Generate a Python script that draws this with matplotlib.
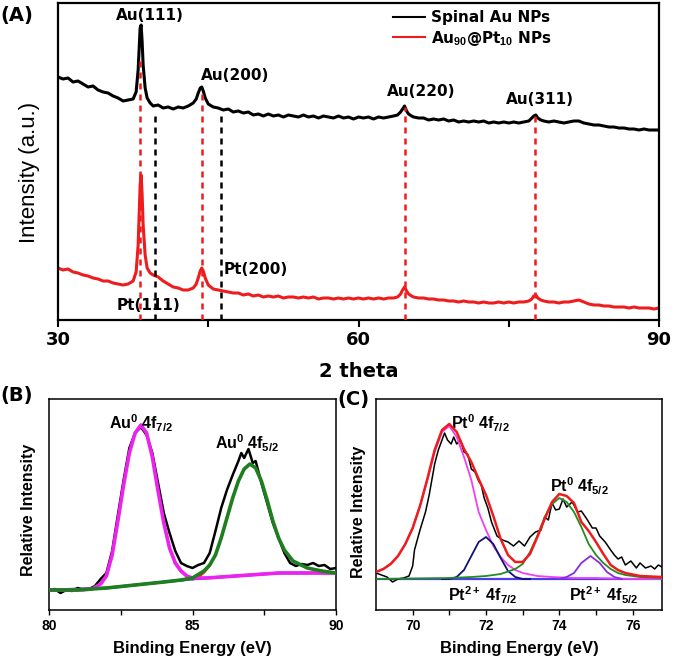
import matplotlib
matplotlib.use("Agg")
import matplotlib.pyplot as plt
from matplotlib import font_manager

plt.rcParams["mathtext.fontset"] = "custom"
plt.rcParams["mathtext.bf"] = "Liberation Sans:bold"
plt.rcParams["mathtext.rm"] = "Liberation Sans:bold"
plt.rcParams["mathtext.it"] = "Liberation Sans:bold"
plt.rcParams["mathtext.default"] = "bf"

try:
    font_manager.findfont("Liberation Sans Narrow", fallback_to_default=False)
    NARROW = "Liberation Sans Narrow"
except Exception:
    NARROW = "Liberation Sans"

WIDE = "DejaVu Sans"
ARIAL = "Liberation Sans"

# ---------------- (A) XRD ----------------
two_theta = [
    30.0, 30.5, 31.0, 31.5, 32.0, 32.5, 33.0, 33.5, 34.0, 34.5, 35.0, 35.5,
    36.0, 36.5, 37.0, 37.5, 37.8, 38.0, 38.1, 38.2, 38.3, 38.4, 38.5, 38.7,
    38.9, 39.2, 39.5, 40.0, 40.5, 41.0, 41.5, 42.0, 42.5, 43.0, 43.5, 43.8,
    44.0, 44.2, 44.35, 44.5, 44.7, 45.0, 45.5, 46.0, 46.5, 47.0, 47.5, 48.0,
    48.5, 49.0, 49.5, 50.0, 50.5, 51.0, 51.5, 52.0, 52.5, 53.0, 53.5, 54.0,
    54.5, 55.0, 55.5, 56.0, 56.5, 57.0, 57.5, 58.0, 58.5, 59.0, 59.5, 60.0,
    60.5, 61.0, 61.5, 62.0, 62.5, 63.0, 63.5, 63.9, 64.2, 64.4, 64.6, 64.8,
    65.0, 65.3, 65.5, 66.0, 66.5, 67.0, 67.5, 68.0, 68.5, 69.0, 69.5, 70.0,
    70.5, 71.0, 71.5, 72.0, 72.5, 73.0, 73.5, 74.0, 74.5, 75.0, 75.5, 76.0,
    76.5, 77.0, 77.3, 77.5, 77.7, 77.9, 78.2, 78.5, 79.0, 79.5, 80.0, 80.5,
    81.0, 81.5, 82.0, 82.5, 83.0, 83.5, 84.0, 84.5, 85.0, 85.5, 86.0, 86.5,
    87.0, 87.5, 88.0, 88.5, 89.0, 89.5, 90.0,
]
xrd_au = [
    243, 241, 242, 238, 239, 236, 233, 234, 230, 228, 227, 224,
    222, 219, 220, 221, 228, 250, 272, 292, 295, 278, 255, 232,
    222, 217, 214, 215, 212, 213, 211, 213, 212, 214, 217, 221,
    227, 232, 233, 229, 222, 216, 213, 212, 210, 211, 208, 209,
    207, 208, 205, 206, 204, 206, 204, 205, 203, 205, 204, 203,
    205, 203, 204, 202, 204, 203, 202, 204, 202, 203, 201, 203,
    202, 203, 201, 203, 202, 203, 204, 205, 208, 211, 214, 209,
    206, 204, 203, 202, 202, 200, 201, 200, 201, 199, 200, 198,
    199, 198, 199, 198, 199, 197, 198, 197, 198, 197, 198, 197,
    198, 199, 202, 204, 205, 202, 200, 199, 198, 199, 198, 197,
    198, 199, 199, 197, 196, 195, 195, 194, 193, 193, 192, 192,
    191, 191, 190, 191, 190, 190, 190,
]
xrd_aupt = [
    52, 50, 51, 48, 47, 45, 44, 42, 41, 39, 39, 37,
    36, 35, 36, 39, 48, 75, 105, 135, 145, 125, 95, 65,
    52, 47, 45, 43, 39, 36, 33, 32, 30, 30, 32, 36,
    42, 49, 52, 49, 42, 35, 31, 30, 29, 28, 27, 27,
    25, 26, 24, 25, 23, 24, 23, 24, 22, 23, 23, 22,
    23, 22, 23, 21, 22, 22, 21, 22, 21, 22, 21, 22,
    21, 22, 21, 22, 21, 22, 22, 23, 26, 30, 33, 29,
    26, 24, 23, 22, 22, 21, 21, 20, 20, 19, 19, 18,
    19, 18, 18, 17, 18, 17, 17, 18, 17, 18, 17, 18,
    18, 19, 21, 24, 25, 22, 20, 19, 18, 18, 17, 18,
    18, 19, 20, 18, 16, 15, 15, 14, 14, 13, 13, 13,
    12, 13, 12, 12, 12, 11, 12,
]
au_refs = [38.2, 44.35, 64.6, 77.65]
au_ref_tops = [260, 231, 213, 204]
pt_refs = [39.7, 46.25]
pt_ref_tops = [205, 208]
xrd_labels = ["Au(111)", "Au(200)", "Au(220)", "Au(311)", "Pt(200)", "Pt(111)"]

# ---------------- (B) Au 4f ----------------
be_au = [
    80.0, 80.2, 80.4, 80.6, 80.8, 81.0, 81.2, 81.4, 81.6, 81.8, 82.0, 82.2,
    82.4, 82.6, 82.8, 83.0, 83.2, 83.4, 83.6, 83.8, 84.0, 84.2, 84.4, 84.6,
    84.8, 85.0, 85.2, 85.4, 85.6, 85.8, 86.0, 86.2, 86.4, 86.6, 86.7, 86.8,
    86.95, 87.1, 87.2, 87.4, 87.6, 87.8, 88.0, 88.2, 88.4, 88.6, 88.8, 89.0,
    89.2, 89.4, 89.6, 89.8, 90.0,
]
au_raw = [
    22, 24, 20, 23, 22, 25, 23, 24, 27, 34, 40, 62,
    98, 133, 165, 180, 186, 178, 160, 130, 100, 80, 62, 50,
    47, 45, 48, 50, 60, 82, 105, 123, 138, 152, 160, 155,
    164, 150, 152, 130, 110, 90, 75, 60, 50, 47, 49, 48,
    50, 47, 48, 44, 45,
]
be_au_fit = [
    80.0, 81.0, 81.5, 81.8, 82.0, 82.2, 82.4, 82.6, 82.8, 83.0, 83.2, 83.4,
    83.6, 83.8, 84.0, 84.2, 84.4, 84.6, 84.8, 85.0, 85.5, 86.0, 86.5, 87.0,
    87.5, 88.0, 89.0, 90.0,
]
au_f72 = [
    23, 23, 24, 29, 37, 58, 92, 128, 160, 180, 188, 180,
    156, 122, 90, 65, 50, 42, 37, 35, 35, 36, 37, 38,
    39, 40, 40, 40,
]
be_au_f52 = [
    80.0, 81.0, 82.0, 83.0, 84.0, 84.6, 85.0, 85.4, 85.6, 85.8, 86.0, 86.2,
    86.4, 86.6, 86.8, 87.0, 87.2, 87.4, 87.6, 87.8, 88.0, 88.2, 88.5, 89.0,
    89.5, 90.0,
]
au_f52 = [
    23, 23, 25, 28, 31, 33, 35, 42, 48, 58, 75, 95,
    115, 132, 144, 149, 145, 132, 113, 92, 75, 63, 52, 45,
    42, 40,
]
be_au_bg = [80.0, 82.0, 83.0, 84.0, 85.0, 86.0, 87.0, 88.0, 90.0]
au_bg = [23, 25, 28, 31, 34, 36, 38, 40, 40]
be_au_env = [84.4, 84.6, 84.8, 85.0, 85.2, 85.4, 85.6]
au_env = [50, 42, 37, 34, 36, 41, 48]

# ---------------- (C) Pt 4f ----------------
be_pt_raw = [
    69.0, 69.15, 69.3, 69.45, 69.6, 69.75, 69.9, 70.0, 70.05, 70.2, 70.35, 70.45,
    70.6, 70.7, 70.8, 70.87, 70.95, 71.05, 71.12, 71.2, 71.3, 71.4, 71.5, 71.6,
    71.7, 71.8, 71.87, 71.95, 72.05, 72.15, 72.3, 72.45, 72.6, 72.75, 72.9, 73.05,
    73.2, 73.35, 73.5, 73.6, 73.7, 73.8, 73.9, 74.0, 74.1, 74.2, 74.35, 74.5,
    74.6, 74.75, 74.9, 75.0, 75.1, 75.25, 75.4, 75.5, 75.6, 75.7, 75.8, 75.95,
    76.1, 76.2, 76.35, 76.5, 76.6, 76.7, 76.8,
]
pt_raw = [
    39, 37, 35, 30, 33, 34, 36, 46, 62, 82, 100, 117,
    148, 162, 172, 179, 172, 168, 175, 168, 172, 160, 158, 143,
    140, 131, 127, 114, 104, 90, 76, 72, 70, 66, 71, 66,
    75, 80, 82, 95, 92, 109, 102, 103, 113, 105, 110, 100,
    101, 93, 84, 84, 76, 70, 62, 57, 53, 55, 47, 51,
    44, 49, 44, 46, 43, 47, 45,
]
be_pt_env = [
    69.0, 69.2, 69.4, 69.6, 69.8, 70.0, 70.2, 70.4, 70.6, 70.8, 71.0, 71.2,
    71.4, 71.6, 71.8, 72.0, 72.2, 72.4, 72.6, 72.8, 73.0, 73.2, 73.4, 73.6,
    73.8, 74.0, 74.2, 74.4, 74.6, 74.8, 75.0, 75.2, 75.4, 75.6, 75.8, 76.2,
    76.8,
]
pt_env = [
    40, 43, 48, 56, 68, 84, 106, 133, 162, 182, 188, 180,
    163, 150, 133, 117, 96, 73, 57, 50, 50, 58, 75, 93,
    110, 118, 116, 109, 90, 81, 70, 58, 47, 42, 39, 36,
    35,
]
be_pt0_72 = [
    69.0, 69.2, 69.4, 69.6, 69.8, 70.0, 70.2, 70.4, 70.6, 70.8, 71.0, 71.2,
    71.4, 71.6, 71.8, 72.0, 72.2, 72.4, 72.6, 72.8, 73.0, 73.4, 73.8, 74.4,
    75.0, 76.0, 76.8,
]
pt0_72 = [
    40, 43, 48, 56, 68, 84, 106, 132, 160, 180, 186, 175,
    155, 132, 100, 82, 66, 55, 47, 42, 39, 36, 35, 34,
    34, 33, 33,
]
be_pt2_72 = [70.8, 71.0, 71.2, 71.4, 71.6, 71.8, 72.0, 72.2, 72.4, 72.6, 72.8, 73.0, 73.2]
pt2_72 = [33, 33, 35, 42, 56, 70, 75, 68, 54, 41, 35, 33, 33]
be_pt0_52 = [
    69.0, 70.0, 71.0, 71.6, 72.0, 72.4, 72.8, 73.0, 73.2, 73.4, 73.6, 73.8,
    74.0, 74.2, 74.4, 74.6, 74.8, 75.0, 75.2, 75.4, 75.6, 75.8, 76.2, 76.8,
]
pt0_52 = [
    33, 33.5, 34, 35, 36, 38, 43, 48, 60, 76, 95, 108,
    114, 110, 100, 85, 68, 57, 49, 43, 39, 37, 35, 34,
]
be_pt2_52 = [74.0, 74.2, 74.4, 74.6, 74.85, 75.1, 75.3, 75.5, 75.7]
pt2_52 = [33, 35, 39, 49, 56, 49, 40, 35, 33]
be_pt_bg = [69.0, 76.8]
pt_bg = [33, 33]

RED = "#ee1c1c"
fig = plt.figure(figsize=(6.75, 6.59), dpi=100)

# ---------- panel A ----------
axA = fig.add_axes([58 / 675, 1 - 320 / 659, 601 / 675, 317 / 659])
axA.plot(two_theta, xrd_au, color="black", lw=2.2, label="Spinal Au NPs", zorder=2)
axA.plot(two_theta, xrd_aupt, color=RED, lw=2.2, label=r"Au$_{90}$@Pt$_{10}$ NPs", zorder=2)
for x0, top in zip(au_refs, au_ref_tops):
    axA.plot([x0, x0], [0, top], color=RED, lw=1.8, ls=(0, (2.4, 2.0)), zorder=3)
for x0, top in zip(pt_refs, pt_ref_tops):
    axA.plot([x0, x0], [0, top], color="black", lw=1.8, ls=(0, (2.4, 2.0)), zorder=3)

lab_xy = [(39.2, 305), (47.7, 245), (66.3, 228), (78.1, 220), (49.7, 50), (39.0, 14)]
for txt, (lx, ly) in zip(xrd_labels, lab_xy):
    axA.text(lx, ly, txt, ha="center", va="center", family=WIDE, weight="bold",
             fontsize=11, zorder=1)

axA.set_xlim(30, 90)
axA.set_ylim(0, 317)
axA.set_yticks([])
axA.set_xticks([30, 60, 90])
axA.set_xticks([45, 75], minor=True)
axA.tick_params(axis="x", which="both", direction="out", length=5, width=1.5, pad=3)
for lab in axA.get_xticklabels():
    lab.set_family(WIDE)
    lab.set_weight("bold")
    lab.set_fontsize(13)
for sp in axA.spines.values():
    sp.set_linewidth(1.6)
axA.set_xlabel("2 theta", family=WIDE, weight="bold", fontsize=14, labelpad=9)
leg = axA.legend(loc="upper left", bbox_to_anchor=(0.557, 0.978), frameon=False,
                 handlelength=2.1, handletextpad=0.4, labelspacing=0.25,
                 borderpad=0, borderaxespad=0,
                 prop={"family": WIDE, "weight": "bold", "size": 11})
for h in leg.get_lines():
    h.set_linewidth(1.5)
fig.text(30 / 675, 1 - 172 / 659, "Intensity (a.u.)", rotation=90, ha="center",
         va="center", family=NARROW, fontsize=16)
fig.text(0.0, 1 - 15 / 659, "(A)", ha="left", va="center", family=WIDE,
         weight="bold", fontsize=14)


def style_xps(ax, major, minor, xlim):
    ax.set_xlim(*xlim)
    ax.set_yticks([])
    ax.set_xticks(major)
    ax.set_xticks(minor, minor=True)
    ax.tick_params(axis="x", which="both", direction="out", length=3.5, width=1, pad=3)
    for lab in ax.get_xticklabels():
        lab.set_family(ARIAL)
        lab.set_weight("bold")
        lab.set_fontsize(10)
    for sp in ax.spines.values():
        sp.set_linewidth(1.1)
    ax.set_xlabel("Binding Energy (eV)", family=ARIAL, weight="bold", fontsize=12,
                  labelpad=6)


# ---------- panel B ----------
axB = fig.add_axes([49 / 675, 1 - 610 / 659, 287 / 675, 211 / 659])
axB.plot(be_au_env, au_env, color=RED, lw=2.2, zorder=1)
axB.plot(be_au_bg, au_bg, color="#2040ff", lw=2.0, zorder=1)
axB.plot(be_au, au_raw, color="black", lw=1.8, zorder=2)
axB.plot(be_au_fit, au_f72, color="#ee22ee", lw=2.6, zorder=3)
axB.plot(be_au_f52, au_f52, color="#1f7f1f", lw=2.6, zorder=4)
axB.set_ylim(3, 214)
style_xps(axB, [80, 85, 90], [82.5, 87.5], (80, 90))
axB.text(82.1, 179, r"Au$^0$ 4f$_{7/2}$", ha="left", va="bottom", family=ARIAL,
         weight="bold", fontsize=11.5)
axB.text(85.8, 159, r"Au$^0$ 4f$_{5/2}$", ha="left", va="bottom", family=ARIAL,
         weight="bold", fontsize=11.5)
fig.text(29 / 675, 1 - 510 / 659, "Relative Intensity", rotation=90, ha="center",
         va="center", family=ARIAL, weight="bold", fontsize=11.5)
fig.text(0.0, 1 - 395 / 659, "(B)", ha="left", va="center", family=WIDE,
         weight="bold", fontsize=14)

# ---------- panel C ----------
axC = fig.add_axes([376 / 675, 1 - 610 / 659, 286 / 675, 211 / 659])
axC.plot(be_pt_bg, pt_bg, color="#4b3cf0", lw=1.6, zorder=1)
axC.plot(be_pt_raw, pt_raw, color="black", lw=1.1, zorder=2)
axC.plot(be_pt0_72, pt0_72, color="#f040f0", lw=1.3, zorder=3)
axC.plot(be_pt2_72, pt2_72, color="#10107a", lw=1.3, zorder=3)
axC.plot(be_pt0_52, pt0_52, color="#228b22", lw=1.3, zorder=3)
axC.plot(be_pt2_52, pt2_52, color="#8a2be2", lw=1.3, zorder=3)
axC.plot(be_pt_env, pt_env, color=RED, lw=1.8, zorder=4)
axC.set_ylim(2, 213)
style_xps(axC, [70, 72, 74, 76], [71, 73, 75], (69, 76.8))
axC.text(71.05, 178, r"Pt$^0$ 4f$_{7/2}$", ha="left", va="bottom", family=ARIAL,
         weight="bold", fontsize=11.5)
axC.text(73.75, 115, r"Pt$^0$ 4f$_{5/2}$", ha="left", va="bottom", family=ARIAL,
         weight="bold", fontsize=11.5)
axC.text(70.95, 17, r"Pt$^{2+}$ 4f$_{7/2}$", ha="left", va="center", family=ARIAL,
         weight="bold", fontsize=11.5)
axC.text(74.25, 17, r"Pt$^{2+}$ 4f$_{5/2}$", ha="left", va="center", family=ARIAL,
         weight="bold", fontsize=11.5)
fig.text(359 / 675, 1 - 512 / 659, "Relative Intensity", rotation=90, ha="center",
         va="center", family=ARIAL, weight="bold", fontsize=11.5)
fig.text(337 / 675, 1 - 400 / 659, "(C)", ha="left", va="center", family=WIDE,
         weight="bold", fontsize=14)

fig.savefig("out.png", dpi=100)
